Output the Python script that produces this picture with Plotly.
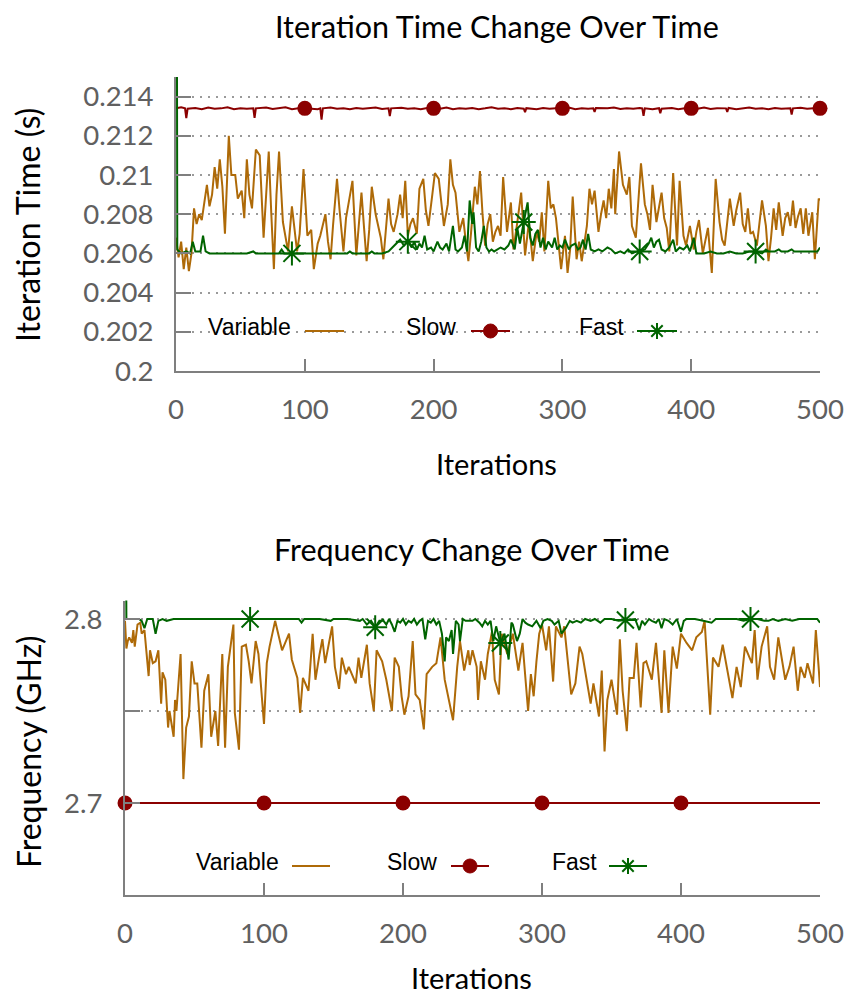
import plotly.graph_objects as go

# The page body has an 8px margin, so the figure is sized to fit the
# 854x1002 window and every layout position is given in window pixels.
WIN_W, WIN_H, BODY_MARGIN = 854, 1002, 8
W, H = WIN_W - 2 * BODY_MARGIN, WIN_H - 2 * BODY_MARGIN

# ---------------- data: top panel (iteration time, seconds) ----------------
var_top_it = [
    0, 2, 4, 6, 8, 10, 12, 14, 16, 18,
    20, 22, 24, 26, 28, 30, 32, 34, 36, 38,
    41, 43, 46, 48, 51, 53, 55, 57, 59, 62,
    65, 68, 70, 72, 74, 76, 78, 80, 83, 87,
    90, 94, 96, 99, 102, 105, 107, 110, 112, 116,
    118, 120, 122, 125, 127, 130, 132, 134, 137, 140,
    142, 144, 146, 148, 150, 152, 155, 157, 159, 161,
    163, 165, 167, 169, 172, 174, 176, 178, 180, 182,
    184, 187, 189, 192, 194, 196, 199, 201, 204, 206,
    208, 211, 213, 215, 217, 220, 223, 225, 227, 229,
    232, 234, 236, 238, 240, 242, 244, 246, 248, 250,
    252, 254, 257, 260, 262, 265, 268, 271, 274, 277,
    280, 282, 284, 286, 289, 291, 293, 295, 297, 299,
    302, 304, 306, 308, 311, 313, 315, 317, 319, 321,
    323, 325, 328, 330, 332, 334, 336, 338, 340, 341,
    344, 347, 350, 352, 354, 357, 359, 361, 364, 366,
    368, 370, 373, 375, 377, 379, 381, 383, 386, 389,
    391, 394, 396, 399, 402, 404, 406, 409, 411, 413,
    416, 419, 422, 424, 426, 428, 430, 433, 435, 438,
    440, 442, 444, 446, 448, 451, 453, 455, 458, 460,
    462, 464, 466, 468, 471, 473, 475, 477, 479, 481,
    483, 485, 487, 489, 491, 494, 496, 498, 499, 500]
var_top_val = [
    0.2068, 0.2058, 0.2066, 0.2052, 0.2063, 0.2051, 0.2060, 0.2083, 0.2075, 0.2080,
    0.2077, 0.2085, 0.2095, 0.2084, 0.2090, 0.2104, 0.2093, 0.2108, 0.2094, 0.2070,
    0.2120, 0.2100, 0.2100, 0.2088, 0.2092, 0.2078, 0.2108, 0.2090, 0.2083, 0.2113,
    0.2110, 0.2068, 0.2090, 0.2112, 0.2080, 0.2052, 0.2090, 0.2112, 0.2076, 0.2061,
    0.2084, 0.2061, 0.2070, 0.2103, 0.2069, 0.2072, 0.2052, 0.2065, 0.2069, 0.2080,
    0.2066, 0.2057, 0.2075, 0.2098, 0.2082, 0.2061, 0.2078, 0.2085, 0.2097, 0.2059,
    0.2077, 0.2091, 0.2073, 0.2056, 0.2072, 0.2094, 0.2080, 0.2074, 0.2068, 0.2057,
    0.2073, 0.2088, 0.2075, 0.2071, 0.2080, 0.2090, 0.2078, 0.2097, 0.2069, 0.2075,
    0.2078, 0.2070, 0.2093, 0.2098, 0.2082, 0.2074, 0.2090, 0.2101, 0.2098, 0.2085,
    0.2074, 0.2085, 0.2108, 0.2095, 0.2091, 0.2071, 0.2078, 0.2066, 0.2056, 0.2070,
    0.2094, 0.2085, 0.2102, 0.2080, 0.2064, 0.2075, 0.2080, 0.2066, 0.2071, 0.2074,
    0.2069, 0.2099, 0.2071, 0.2086, 0.2062, 0.2076, 0.2091, 0.2059, 0.2076, 0.2056,
    0.2071, 0.2066, 0.2081, 0.2061, 0.2097, 0.2083, 0.2085, 0.2078, 0.2066, 0.2052,
    0.2069, 0.2050, 0.2062, 0.2089, 0.2057, 0.2066, 0.2056, 0.2064, 0.2074, 0.2093,
    0.2085, 0.2092, 0.2071, 0.2080, 0.2087, 0.2078, 0.2093, 0.2083, 0.2103, 0.2080,
    0.2112, 0.2095, 0.2090, 0.2099, 0.2074, 0.2068, 0.2085, 0.2106, 0.2085, 0.2080,
    0.2072, 0.2095, 0.2076, 0.2083, 0.2091, 0.2078, 0.2073, 0.2061, 0.2101, 0.2064,
    0.2097, 0.2069, 0.2064, 0.2074, 0.2062, 0.2071, 0.2077, 0.2060, 0.2066, 0.2073,
    0.2050, 0.2098, 0.2076, 0.2067, 0.2064, 0.2075, 0.2088, 0.2074, 0.2082, 0.2091,
    0.2075, 0.2071, 0.2083, 0.2070, 0.2071, 0.2064, 0.2075, 0.2087, 0.2074, 0.2056,
    0.2068, 0.2083, 0.2072, 0.2086, 0.2069, 0.2078, 0.2081, 0.2074, 0.2087, 0.2073,
    0.2079, 0.2083, 0.2070, 0.2083, 0.2069, 0.2081, 0.2057, 0.2076, 0.2088, 0.2087]

slow_top_it = [
    0, 4, 7, 8, 9, 15, 20, 25, 30, 35, 40, 45, 50, 55, 60, 61, 62, 70, 75, 80,
    85, 90, 95, 100, 105, 110, 112, 113, 114, 120, 125, 130, 135, 140, 145, 150,
    155, 160, 165, 166, 167, 175, 180, 185, 190, 195, 200, 205, 210, 215, 220,
    225, 230, 235, 240, 245, 250, 255, 260, 265, 270, 271, 272, 280, 285, 290,
    295, 300, 305, 310, 315, 320, 324, 325, 326, 335, 340, 345, 350, 355, 360,
    362, 363, 364, 370, 375, 376, 377, 385, 390, 395, 400, 405, 410, 415, 420,
    427, 428, 429, 435, 440, 445, 450, 455, 460, 465, 470, 477, 478, 479, 485,
    490, 495, 500]
slow_top_val = [
    0.21340, 0.21345, 0.21340, 0.21290, 0.21338, 0.21342, 0.21336, 0.21344, 0.21338, 0.21340,
    0.21346, 0.21336, 0.21341, 0.21338, 0.21340, 0.21292, 0.21340, 0.21344, 0.21337, 0.21340,
    0.21345, 0.21336, 0.21341, 0.21340, 0.21338, 0.21336, 0.21340, 0.21282, 0.21340, 0.21344,
    0.21338, 0.21341, 0.21336, 0.21342, 0.21338, 0.21340, 0.21344, 0.21337, 0.21340, 0.21300,
    0.21340, 0.21343, 0.21338, 0.21341, 0.21336, 0.21342, 0.21340, 0.21338, 0.21344, 0.21336,
    0.21341, 0.21338, 0.21342, 0.21336, 0.21340, 0.21345, 0.21338, 0.21340, 0.21336, 0.21342,
    0.21338, 0.21320, 0.21341, 0.21336, 0.21342, 0.21338, 0.21340, 0.21340, 0.21344, 0.21336,
    0.21341, 0.21338, 0.21340, 0.21322, 0.21342, 0.21340, 0.21344, 0.21337, 0.21341, 0.21338,
    0.21342, 0.21340, 0.21302, 0.21340, 0.21336, 0.21341, 0.21315, 0.21338, 0.21342, 0.21336,
    0.21340, 0.21340, 0.21338, 0.21344, 0.21337, 0.21341, 0.21340, 0.21322, 0.21342, 0.21336,
    0.21340, 0.21344, 0.21338, 0.21341, 0.21336, 0.21342, 0.21338, 0.21340, 0.21308, 0.21340,
    0.21343, 0.21338, 0.21341, 0.21340]

fast_top_it = [
    0, 1, 4, 8, 11, 13, 15, 19, 21, 23,
    26, 35, 45, 55, 60, 62, 75, 80, 82, 84,
    90, 100, 110, 120, 133, 135, 137, 145, 150, 152,
    154, 160, 165, 168, 171, 174, 177, 180, 183, 185,
    187, 189, 191, 193, 195, 198, 200, 203, 205, 207,
    210, 212, 215, 217, 219, 222, 224, 226, 228, 230,
    231, 233, 235, 237, 239, 241, 243, 245, 247, 250,
    252, 255, 258, 260, 263, 265, 267, 270, 273, 275,
    277, 279, 281, 283, 285, 287, 289, 292, 294, 296,
    298, 300, 302, 305, 307, 310, 312, 314, 316, 318,
    320, 322, 325, 328, 331, 335, 338, 341, 345, 348,
    351, 354, 358, 360, 364, 367, 369, 371, 373, 375,
    377, 380, 383, 386, 388, 391, 394, 397, 399, 402,
    404, 410, 415, 420, 425, 430, 435, 440, 445, 450,
    455, 458, 460, 465, 468, 470, 475, 478, 480, 485,
    490, 495, 498, 500]
fast_top_val = [
    0.2450, 0.2062, 0.2060, 0.2061, 0.2060, 0.2066, 0.2061, 0.2061, 0.2069, 0.2061,
    0.2060, 0.2060, 0.2060, 0.2060, 0.2061, 0.2060, 0.2060, 0.2060, 0.2062, 0.2060,
    0.2060, 0.2060, 0.2060, 0.2060, 0.2060, 0.2061, 0.2060, 0.2060, 0.2060, 0.2061,
    0.2060, 0.2060, 0.2061, 0.2063, 0.2065, 0.2067, 0.2064, 0.2066, 0.2063, 0.2066,
    0.2062, 0.2065, 0.2063, 0.2069, 0.2062, 0.2063, 0.2061, 0.2066, 0.2063, 0.2062,
    0.2065, 0.2061, 0.2074, 0.2062, 0.2061, 0.2063, 0.2069, 0.2061, 0.2087, 0.2075,
    0.2081, 0.2063, 0.2061, 0.2066, 0.2074, 0.2063, 0.2061, 0.2062, 0.2061, 0.2062,
    0.2063, 0.2062, 0.2064, 0.2067, 0.2062, 0.2073, 0.2065, 0.2076, 0.2086, 0.2068,
    0.2064, 0.2070, 0.2072, 0.2063, 0.2068, 0.2062, 0.2066, 0.2063, 0.2068, 0.2062,
    0.2064, 0.2063, 0.2067, 0.2062, 0.2064, 0.2065, 0.2062, 0.2063, 0.2067, 0.2062,
    0.2070, 0.2062, 0.2061, 0.2062, 0.2061, 0.2063, 0.2062, 0.2060, 0.2061, 0.2060,
    0.2062, 0.2060, 0.2061, 0.2061, 0.2062, 0.2065, 0.2068, 0.2063, 0.2066, 0.2067,
    0.2062, 0.2061, 0.2063, 0.2067, 0.2061, 0.2063, 0.2062, 0.2064, 0.2061, 0.2068,
    0.2060, 0.2060, 0.2061, 0.2060, 0.2060, 0.2061, 0.2060, 0.2060, 0.2061, 0.2061,
    0.2060, 0.2062, 0.2061, 0.2061, 0.2062, 0.2061, 0.2061, 0.2062, 0.2061, 0.2061,
    0.2061, 0.2061, 0.2061, 0.2063]

slow_top_marks = [100, 200, 300, 400, 500]
fast_top_marks = [90, 180, 270, 360, 450]

# ---------------- data: bottom panel (frequency, GHz) ----------------
var_bot_it = [
    0, 1, 2, 3, 5, 6, 7, 9, 11, 12,
    14, 17, 18, 20, 22, 23, 24, 26, 27, 29,
    31, 32, 35, 36, 37, 40, 42, 44, 46, 48,
    50, 52, 55, 57, 60, 62, 65, 67, 70, 72,
    74, 78, 79, 82, 84, 87, 89, 91, 94, 96,
    100, 102, 104, 108, 111, 113, 118, 120, 124, 126,
    128, 132, 135, 137, 140, 142, 144, 149, 151, 154,
    156, 159, 161, 166, 168, 170, 174, 176, 179, 181,
    185, 188, 192, 194, 197, 199, 201, 204, 207, 209,
    212, 215, 217, 221, 224, 227, 230, 233, 236, 239,
    241, 244, 247, 248, 250, 253, 254, 256, 259, 261,
    264, 266, 269, 271, 273, 275, 279, 283, 286, 290,
    292, 294, 296, 298, 300, 303, 305, 308, 310, 314,
    316, 319, 321, 324, 327, 329, 332, 335, 337, 341,
    343, 345, 347, 350, 354, 356, 358, 361, 363, 366,
    368, 371, 373, 375, 379, 382, 386, 388, 391, 394,
    397, 400, 404, 408, 411, 415, 417, 421, 423, 427,
    430, 433, 437, 440, 443, 446, 451, 453, 455, 458,
    462, 464, 467, 470, 475, 478, 481, 484, 486, 489,
    491, 495, 497, 499, 500]
var_bot_val = [
    2.799, 2.784, 2.788, 2.790, 2.787, 2.794, 2.785, 2.797, 2.798, 2.792,
    2.794, 2.769, 2.783, 2.776, 2.777, 2.781, 2.783, 2.754, 2.771, 2.767,
    2.741, 2.750, 2.736, 2.756, 2.750, 2.781, 2.713, 2.741, 2.747, 2.777,
    2.765, 2.765, 2.730, 2.761, 2.770, 2.736, 2.750, 2.731, 2.781, 2.730,
    2.774, 2.797, 2.749, 2.729, 2.785, 2.786, 2.777, 2.765, 2.788, 2.781,
    2.743, 2.776, 2.785, 2.799, 2.790, 2.783, 2.792, 2.778, 2.768, 2.749,
    2.768, 2.761, 2.792, 2.767, 2.781, 2.789, 2.776, 2.796, 2.774, 2.762,
    2.779, 2.770, 2.774, 2.765, 2.779, 2.768, 2.786, 2.765, 2.750, 2.783,
    2.777, 2.767, 2.750, 2.779, 2.774, 2.758, 2.748, 2.758, 2.788, 2.759,
    2.756, 2.740, 2.770, 2.774, 2.776, 2.790, 2.767, 2.756, 2.745, 2.774,
    2.788, 2.772, 2.783, 2.775, 2.783, 2.774, 2.756, 2.777, 2.767, 2.781,
    2.793, 2.767, 2.759, 2.792, 2.787, 2.781, 2.792, 2.772, 2.787, 2.750,
    2.770, 2.758, 2.777, 2.792, 2.797, 2.783, 2.796, 2.766, 2.796, 2.790,
    2.796, 2.774, 2.759, 2.765, 2.785, 2.781, 2.767, 2.754, 2.765, 2.747,
    2.772, 2.728, 2.756, 2.767, 2.748, 2.789, 2.761, 2.739, 2.768, 2.768,
    2.787, 2.752, 2.776, 2.777, 2.767, 2.787, 2.749, 2.783, 2.749, 2.785,
    2.773, 2.792, 2.787, 2.783, 2.790, 2.793, 2.799, 2.748, 2.779, 2.774,
    2.786, 2.774, 2.757, 2.774, 2.763, 2.785, 2.776, 2.794, 2.767, 2.785,
    2.796, 2.774, 2.767, 2.790, 2.767, 2.774, 2.785, 2.761, 2.774, 2.768,
    2.776, 2.765, 2.794, 2.774, 2.763]

slow_bot_it = [0, 50, 100, 150, 200, 250, 300, 350, 400, 450, 500]
slow_bot_val = [2.700, 2.700, 2.700, 2.700, 2.700, 2.700, 2.700, 2.700, 2.700, 2.700, 2.700]

fast_bot_it = [
    0, 1, 5, 10, 12, 14, 16, 20, 22, 24,
    27, 30, 35, 45, 60, 70, 80, 90, 100, 110,
    120, 125, 127, 129, 140, 148, 150, 160, 169, 171,
    174, 177, 180, 183, 186, 188, 190, 192, 194, 196,
    198, 200, 202, 204, 206, 208, 210, 212, 214, 216,
    218, 220, 222, 224, 226, 228, 230, 231, 233, 235,
    236, 238, 240, 241, 243, 245, 248, 250, 252, 255,
    257, 259, 261, 263, 265, 267, 270, 273, 276, 278,
    279, 282, 284, 286, 288, 290, 293, 296, 299, 301,
    304, 307, 309, 312, 314, 317, 320, 322, 325, 328,
    331, 335, 338, 342, 345, 350, 355, 360, 364, 367,
    370, 372, 374, 377, 379, 382, 384, 386, 388, 391,
    394, 397, 400, 402, 404, 410, 416, 422, 425, 431,
    440, 445, 450, 455, 460, 463, 466, 470, 475, 480,
    485, 490, 495, 498, 500]
fast_bot_val = [
    2.950, 2.800, 2.800, 2.800, 2.799, 2.795, 2.800, 2.800, 2.792, 2.799,
    2.800, 2.799, 2.800, 2.800, 2.800, 2.800, 2.800, 2.800, 2.800, 2.800,
    2.800, 2.800, 2.798, 2.800, 2.800, 2.799, 2.800, 2.800, 2.799, 2.800,
    2.797, 2.799, 2.7955, 2.799, 2.799, 2.797, 2.800, 2.797, 2.793, 2.799,
    2.798, 2.800, 2.797, 2.799, 2.798, 2.800, 2.797, 2.799, 2.800, 2.789,
    2.799, 2.798, 2.800, 2.797, 2.799, 2.792, 2.777, 2.790, 2.788, 2.794,
    2.781, 2.799, 2.797, 2.788, 2.800, 2.799, 2.799, 2.799, 2.800, 2.798,
    2.796, 2.799, 2.797, 2.799, 2.788, 2.796, 2.787, 2.792, 2.778, 2.798,
    2.797, 2.788, 2.792, 2.800, 2.798, 2.797, 2.796, 2.799, 2.795, 2.799,
    2.800, 2.799, 2.797, 2.799, 2.792, 2.795, 2.799, 2.798, 2.799, 2.798,
    2.800, 2.799, 2.800, 2.798, 2.800, 2.800, 2.799, 2.7995, 2.800, 2.800,
    2.794, 2.799, 2.797, 2.800, 2.799, 2.798, 2.800, 2.795, 2.800, 2.799,
    2.797, 2.800, 2.793, 2.799, 2.800, 2.800, 2.799, 2.798, 2.800, 2.800,
    2.800, 2.799, 2.800, 2.800, 2.799, 2.799, 2.800, 2.799, 2.800, 2.799,
    2.800, 2.800, 2.800, 2.800, 2.798]

slow_bot_marks = [0, 100, 200, 300, 400]
fast_bot_marks = [90, 180, 270, 360, 450]

x_ticks = [0, 100, 200, 300, 400, 500]
top_y_ticks = [0.200, 0.202, 0.204, 0.206, 0.208, 0.210, 0.212, 0.214]
top_y_text = ["0.2", "0.202", "0.204", "0.206", "0.208", "0.21", "0.212", "0.214"]
bot_y_ticks = [2.70, 2.75, 2.80]
bot_y_text = ["2.7", "", "2.8"]

series_names = ["Variable", "Slow", "Fast"]

# ---------------- styling ----------------
C_VAR = "#AE6A08"
C_SLOW = "#8B0000"
C_FAST = "#006400"
AXIS_GRAY = "#7f7f7f"
TICK_FONT = dict(family="Lato, 'Open Sans', sans-serif", size=27.5, color="#606060")
LABEL_FONT = dict(family="Lato, 'Open Sans', sans-serif", size=32, color="#000000")
XLABEL_FONT = dict(family="Lato, 'Open Sans', sans-serif", size=29, color="#000000")
TITLE_FONT = dict(family="Lato, 'Open Sans', sans-serif", size=30.5, color="#000000")
LEG_FONT = dict(family="'Liberation Sans Narrow', 'Arial Narrow', 'Liberation Sans', Arial, sans-serif",
                size=23, color="#000000")


def px(x):
    """window pixel x -> paper coordinate"""
    return (x - BODY_MARGIN) / W


def py(y):
    """window pixel y -> paper coordinate"""
    return 1 - (y - BODY_MARGIN) / H


def pick(xs, ys, marks):
    mx, my = [], []
    for x, y in zip(xs, ys):
        if x in marks:
            mx.append(x)
            my.append(y)
    return mx, my


fig = go.Figure()


def add_panel(xa, ya, var, slow, fast, slow_marks, fast_marks):
    fig.add_trace(go.Scatter(x=var[0], y=var[1], mode="lines", name="Variable",
                             line=dict(color=C_VAR, width=2), xaxis=xa, yaxis=ya, showlegend=False))
    fig.add_trace(go.Scatter(x=slow[0], y=slow[1], mode="lines", name="Slow",
                             line=dict(color=C_SLOW, width=2), xaxis=xa, yaxis=ya, showlegend=False))
    mx, my = pick(slow[0], slow[1], slow_marks)
    fig.add_trace(go.Scatter(x=mx, y=my, mode="markers", name="Slow", cliponaxis=False,
                             marker=dict(color=C_SLOW, size=15, symbol="circle"),
                             xaxis=xa, yaxis=ya, showlegend=False))
    fig.add_trace(go.Scatter(x=fast[0], y=fast[1], mode="lines", name="Fast",
                             line=dict(color=C_FAST, width=2), xaxis=xa, yaxis=ya, showlegend=False))
    mx, my = pick(fast[0], fast[1], fast_marks)
    fig.add_trace(go.Scatter(x=mx, y=my, mode="markers", name="Fast", cliponaxis=False,
                             marker=dict(color=C_FAST, size=20, symbol="asterisk-open",
                                         line=dict(color=C_FAST, width=2)),
                             xaxis=xa, yaxis=ya, showlegend=False))


add_panel("x", "y", (var_top_it, var_top_val), (slow_top_it, slow_top_val),
          (fast_top_it, fast_top_val), slow_top_marks, fast_top_marks)
add_panel("x2", "y2", (var_bot_it, var_bot_val), (slow_bot_it, slow_bot_val),
          (fast_bot_it, fast_bot_val), slow_bot_marks, fast_bot_marks)

common_x = dict(range=[0, 500], tickvals=x_ticks, ticks="inside", ticklen=12, tickwidth=2,
                tickcolor=AXIS_GRAY, showline=True, linecolor=AXIS_GRAY, linewidth=2,
                showgrid=False, zeroline=False, tickfont=TICK_FONT, ticklabelstandoff=13,
                automargin=False)
common_y = dict(ticks="inside", ticklen=15, tickwidth=2, tickcolor=AXIS_GRAY,
                showline=True, linecolor=AXIS_GRAY, linewidth=2, zeroline=False,
                showgrid=True, gridcolor="#9a9a9a", gridwidth=1.5, griddash="2px,6px",
                tickfont=TICK_FONT, ticklabelstandoff=15, automargin=False)

fig.update_layout(
    width=W, height=H, margin=dict(l=0, r=0, t=0, b=0, autoexpand=False),
    paper_bgcolor="white", plot_bgcolor="white", showlegend=False,
    xaxis=dict(domain=[px(176), px(820)], anchor="y", **common_x),
    yaxis=dict(domain=[py(371), py(77)], anchor="x", range=[0.200, 0.215],
               tickvals=top_y_ticks, ticktext=top_y_text, **common_y),
    xaxis2=dict(domain=[px(125), px(820)], anchor="y2", **common_x),
    yaxis2=dict(domain=[py(895), py(600.6)], anchor="x2", range=[2.65, 2.81],
                tickvals=bot_y_ticks, ticktext=bot_y_text, **common_y),
)

annotations = [
    dict(text="Iteration Time Change Over Time", x=px(497), y=py(26), font=TITLE_FONT),
    dict(text="Frequency Change Over Time", x=px(472), y=py(549), font=TITLE_FONT),
    dict(text="Iterations", x=px(497), y=py(463), font=XLABEL_FONT),
    dict(text="Iterations", x=px(472), y=py(977), font=XLABEL_FONT),
    dict(text="Iteration Time (s)", x=px(28), y=py(225), font=LABEL_FONT, textangle=-90),
    dict(text="Frequency (GHz)", x=px(28), y=py(752), font=LABEL_FONT, textangle=-90),
]
for a in annotations:
    a.update(xref="paper", yref="paper", showarrow=False, xanchor="center", yanchor="middle",
             borderpad=0)
    fig.add_annotation(**a)

shapes = []
# white key box (hides the grid behind the key, as in the original)
shapes.append(dict(type="rect", xref="paper", yref="paper", layer="between",
                   x0=px(179), x1=px(822), y0=py(345), y1=py(311),
                   fillcolor="white", line=dict(width=0)))


def legend(row_y, text_right, samples):
    colors = [C_VAR, C_SLOW, C_FAST]
    for name, tr, (s0, s1), col, kind in zip(series_names, text_right, samples, colors,
                                             ["line", "dot", "star"]):
        fig.add_annotation(text=name, x=px(tr), y=py(row_y - 4), xref="paper", yref="paper",
                           showarrow=False, xanchor="right", yanchor="middle", font=LEG_FONT)
        shapes.append(dict(type="line", xref="paper", yref="paper", x0=px(s0), x1=px(s1),
                           y0=py(row_y), y1=py(row_y), line=dict(color=col, width=2)))
        cx = (s0 + s1) / 2
        if kind == "dot":
            r = 7
            shapes.append(dict(type="circle", xref="paper", yref="paper",
                               x0=px(cx - r), x1=px(cx + r), y0=py(row_y + r), y1=py(row_y - r),
                               fillcolor=col, line=dict(color=col, width=1)))
        elif kind == "star":
            r, d = 8, 5.7
            for (ax, ay, bx, by) in [(-r, 0, r, 0), (0, -r, 0, r), (-d, -d, d, d), (-d, d, d, -d)]:
                shapes.append(dict(type="line", xref="paper", yref="paper",
                                   x0=px(cx + ax), x1=px(cx + bx), y0=py(row_y + ay), y1=py(row_y + by),
                                   line=dict(color=col, width=2)))


legend(331, [293, 458, 626], [(305, 344), (471, 510), (637, 677)])
legend(866, [281, 439, 599], [(292, 330), (451, 489), (609, 647)])

fig.update_layout(shapes=shapes)
fig.write_html("out.html")
